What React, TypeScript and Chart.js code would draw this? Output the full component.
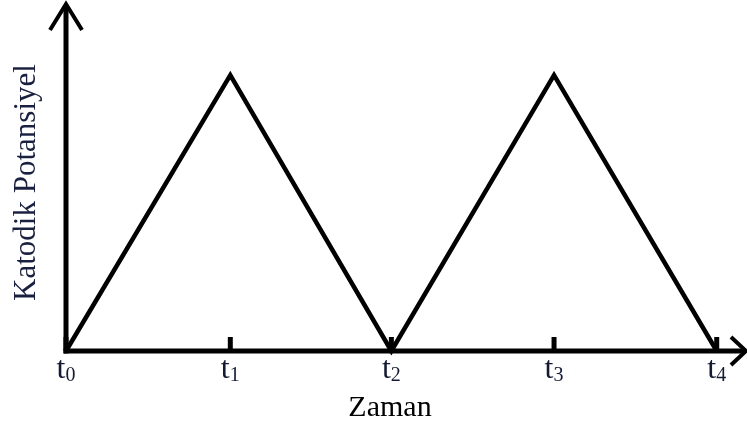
import { useEffect, useRef } from 'react';
import { Chart, registerables } from 'chart.js';

Chart.register(...registerables);

// Data
const tickPositions = [0, 1.01, 2.0, 3.0, 4.0];
const tickBase = ['t', 't', 't', 't', 't'];
const tickSubs = ['0', '1', '2', '3', '4'];
const potential = [0, 0.795, 0, 0.795, 0];
const xTitle = 'Zaman';
const yTitle = 'Katodik Potansiyel';

const SERIF = '"Liberation Serif", "Times New Roman", serif';

const axesPlugin = {
  id: 'customAxes',
  afterDraw(chart: any) {
    const { ctx } = chart;
    const xs = chart.scales.x;
    const ys = chart.scales.y;
    const x0 = xs.getPixelForValue(0);
    const y0 = ys.getPixelForValue(0);
    const xEnd = xs.getPixelForValue(xs.max);
    const yTop = ys.getPixelForValue(ys.max);

    ctx.save();
    ctx.strokeStyle = '#000';
    ctx.lineCap = 'butt';
    ctx.lineJoin = 'miter';

    // axes
    ctx.lineWidth = 5;
    ctx.beginPath();
    ctx.moveTo(x0, y0 + 2.5);
    ctx.lineTo(x0, yTop + 1);
    ctx.stroke();
    ctx.beginPath();
    ctx.moveTo(x0 - 2.5, y0);
    ctx.lineTo(xEnd - 1, y0);
    ctx.stroke();

    // arrow heads
    ctx.lineWidth = 4;
    ctx.beginPath();
    ctx.moveTo(x0 - 16, yTop + 26);
    ctx.lineTo(x0, yTop);
    ctx.lineTo(x0 + 16, yTop + 26);
    ctx.stroke();
    ctx.beginPath();
    ctx.moveTo(xEnd - 15, y0 - 14);
    ctx.lineTo(xEnd, y0);
    ctx.lineTo(xEnd - 15, y0 + 14);
    ctx.stroke();

    // tick marks
    ctx.lineWidth = 5;
    tickPositions.forEach((p) => {
      const px = xs.getPixelForValue(p);
      ctx.beginPath();
      ctx.moveTo(px, y0 - 14);
      ctx.lineTo(px, y0);
      ctx.stroke();
    });

    // tick labels with subscripts
    ctx.fillStyle = '#141a33';
    ctx.textBaseline = 'alphabetic';
    ctx.textAlign = 'left';
    tickPositions.forEach((p, i) => {
      const px = xs.getPixelForValue(p);
      ctx.font = `32px ${SERIF}`;
      const wb = ctx.measureText(tickBase[i]).width;
      ctx.font = `20px ${SERIF}`;
      const ws = ctx.measureText(tickSubs[i]).width;
      const start = px - (wb + ws) / 2;
      ctx.font = `32px ${SERIF}`;
      ctx.fillText(tickBase[i], start, y0 + 27);
      ctx.font = `20px ${SERIF}`;
      ctx.fillText(tickSubs[i], start + wb, y0 + 30);
    });

    // x title
    ctx.fillStyle = '#000';
    ctx.font = `30px ${SERIF}`;
    ctx.textAlign = 'center';
    ctx.fillText(xTitle, 390, y0 + 65);

    // y title
    ctx.save();
    ctx.translate(35, (yTop + y0) / 2 + 5);
    ctx.rotate(-Math.PI / 2);
    ctx.fillStyle = '#1a2040';
    ctx.font = `31px ${SERIF}`;
    ctx.textAlign = 'center';
    ctx.fillText(yTitle, 0, 0);
    ctx.restore();

    ctx.restore();
  },
};

export default function App() {
  const ref = useRef<HTMLCanvasElement | null>(null);

  useEffect(() => {
    if (!ref.current) return;
    const chart = new Chart(ref.current, {
      type: 'line',
      data: {
        datasets: [
          {
            data: tickPositions.map((p, i) => ({ x: p, y: potential[i] })),
            borderColor: '#000',
            borderWidth: 4.5,
            pointRadius: 0,
            tension: 0,
            fill: false,
            clip: false as any,
            borderJoinStyle: 'miter',
          },
        ],
      },
      options: {
        responsive: false,
        animation: false,
        layout: { padding: { left: 66, right: 1, top: 4, bottom: 74 } },
        scales: {
          x: { type: 'linear', min: 0, max: 4.18, display: false },
          y: { type: 'linear', min: 0, max: 1, display: false },
        },
        plugins: {
          legend: { display: false },
          tooltip: { enabled: false },
        },
      },
      plugins: [axesPlugin],
    });
    return () => chart.destroy();
  }, []);

  return (
    <div style={{ position: 'absolute', left: 0, top: 0, width: 747, height: 425, background: '#fff' }}>
      <canvas ref={ref} width={747} height={425} style={{ display: 'block' }} />
    </div>
  );
}
